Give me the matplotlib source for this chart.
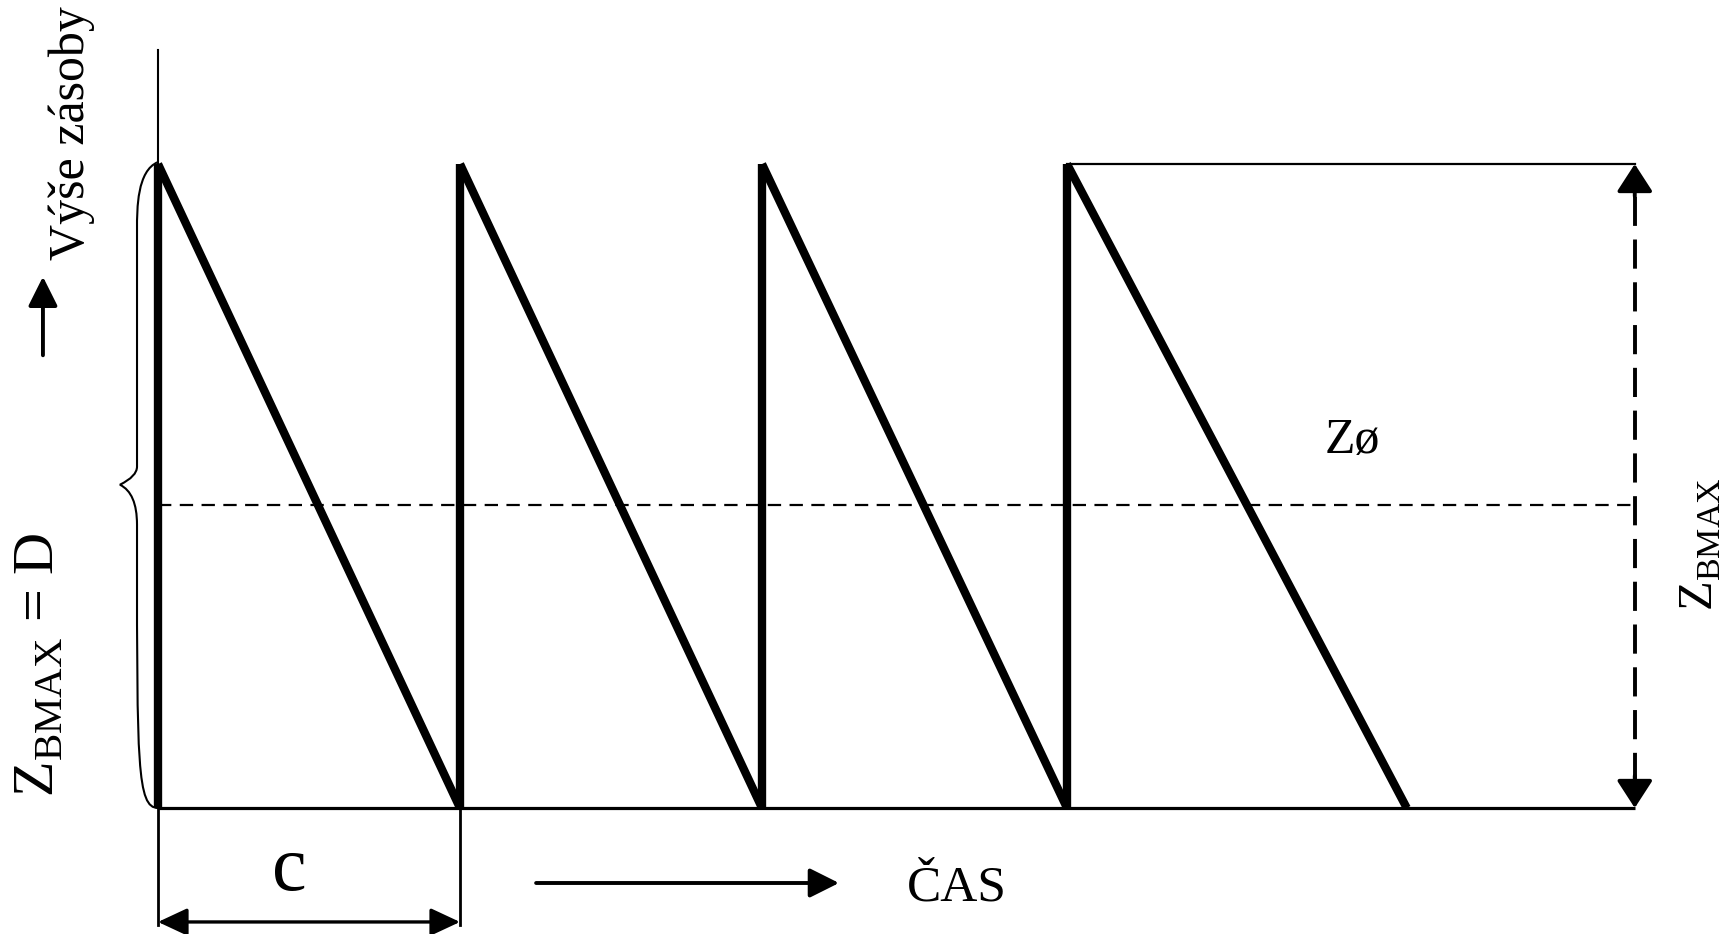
import matplotlib
matplotlib.use("Agg")
import matplotlib.pyplot as plt
from matplotlib.path import Path
from matplotlib.patches import PathPatch

plt.rcParams['font.family'] = ['Liberation Serif', 'DejaVu Serif']
plt.rcParams['mathtext.fontset'] = 'custom'
plt.rcParams['mathtext.rm'] = 'Liberation Serif'

# inventory cycles, time in units of the cycle length c
cycle_start = [0.0, 1.0, 2.0, 3.01]
cycle_end = [1.0, 2.0, 3.01, 4.135]
z_max = 1.0
z_avg = 0.47
time_end = 4.89
axis_top = 1.177

label_y = "Výše zásoby"
label_left = r"$\mathrm{Z}_{\mathrm{BMAX}}$ = D"
label_right = r"$\mathrm{Z}_{\mathrm{BMAX}}$"
label_avg = "Zø"
label_c = "c"
label_time = "ČAS"

fig = plt.figure(figsize=(17.35, 9.34), dpi=100)
ax = fig.add_axes([0, 0, 1, 1])
ax.set_xlim(-0.5232, 5.2219)
ax.set_ylim(-0.1957, 1.2547)
ax.axis('off')

K = 'black'
head = '-|>,head_length=0.9,head_width=0.45'

# thin axis line and baseline
ax.plot([0, 0], [0, axis_top], color=K, lw=1.5)
ax.plot([0, time_end], [0, 0], color=K, lw=2.3, solid_capstyle='butt')

# sawtooth
for s, e in zip(cycle_start, cycle_end):
    ax.plot([s, s], [0, z_max], color=K, lw=6, solid_capstyle='butt')
    ax.plot([s, e], [z_max, 0], color=K, lw=6, solid_capstyle='butt')

# top line of last cycle
ax.plot([cycle_start[-1], time_end], [z_max, z_max], color=K, lw=1.6)

# average stock dashed line
ax.plot([0, time_end], [z_avg, z_avg], color=K, lw=1.6, dashes=(6, 3.8))

# right dashed dimension arrow
ax.plot([time_end, time_end], [0.04, 0.96], color=K, lw=2.8, dashes=(7.5, 3.5))
for y0, y1 in [(0.95, z_max), (0.05, 0)]:
    ax.annotate('', xy=(time_end, y1), xytext=(time_end, y0),
                arrowprops=dict(arrowstyle='-|>,head_length=0.85,head_width=0.55',
                                mutation_scale=20, color=K, lw=2.8,
                                shrinkA=0, shrinkB=0),
                annotation_clip=False)

# brace on the left
bx, tip = -0.0695, -0.126
path = Path([(0, z_max + 0.003), (bx, z_max - 0.01), (bx, z_max - 0.07), (bx, z_max - 0.10),
             (bx, z_avg + 0.06), (bx, 0.515), (tip, 0.502),
             (bx, 0.489), (bx, 0.44), (bx, 0.40),
             (bx, 0.07), (bx, 0.0), (0, 0.0)],
            [Path.MOVETO, Path.CURVE4, Path.CURVE4, Path.CURVE4,
             Path.LINETO, Path.CURVE3, Path.CURVE3,
             Path.CURVE3, Path.CURVE3, Path.LINETO,
             Path.CURVE4, Path.CURVE4, Path.CURVE4])
ax.add_patch(PathPatch(path, fill=False, lw=1.5, color=K))

# y label with arrow
ax.text(-0.284, 1.048, label_y, rotation=90, ha='center', va='center', fontsize=36)
ax.annotate('', xy=(-0.381, 0.825), xytext=(-0.381, 0.703),
            arrowprops=dict(arrowstyle=head, mutation_scale=20,
                            color=K, lw=2.8, shrinkA=0, shrinkB=0))

ax.text(-0.394, 0.222, label_left, rotation=90, ha='center', va='center', fontsize=42)

# c dimension
ax.plot([0, 0], [0, -0.182], color=K, lw=2.0)
ax.plot([1.0, 1.0], [0, -0.182], color=K, lw=2.0)
ax.annotate('', xy=(0, -0.177), xytext=(1.0, -0.177),
            arrowprops=dict(arrowstyle='<|-|>,head_length=0.9,head_width=0.42',
                            mutation_scale=20, color=K, lw=2.4,
                            shrinkA=0, shrinkB=0))
ax.text(0.434, -0.098, label_c, ha='center', va='center', fontsize=56)

# time arrow
ax.annotate('', xy=(2.255, -0.1165), xytext=(1.252, -0.1165),
            arrowprops=dict(arrowstyle=head, mutation_scale=20,
                            color=K, lw=2.8, shrinkA=0, shrinkB=0))
ax.text(2.646, -0.124, label_time, ha='center', va='center', fontsize=37)

ax.text(3.954, 0.571, label_avg, ha='center', va='center', fontsize=36)
ax.text(5.109, 0.41, label_right, rotation=90, ha='center', va='center', fontsize=35)

fig.savefig('out.png', dpi=100)
